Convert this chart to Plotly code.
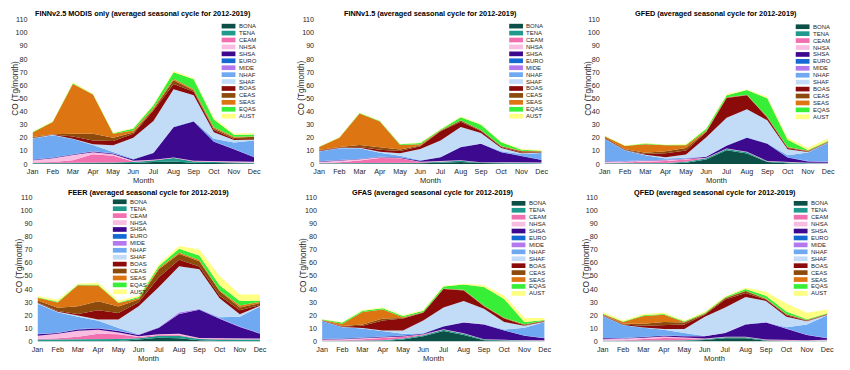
import plotly.graph_objects as go

MONTHS = ["Jan", "Feb", "Mar", "Apr", "May", "Jun", "Jul", "Aug", "Sep", "Oct", "Nov", "Dec"]
REGIONS = ["BONA", "TENA", "CEAM", "NHSA", "SHSA", "EURO", "MIDE",
           "NHAF", "SHAF", "BOAS", "CEAS", "SEAS", "EQAS", "AUST"]
COLORS = ["#0b4f47", "#1f9a8c", "#f26fb0", "#f8bde0", "#3d0a8f", "#1569d2", "#b478ee",
          "#6ea9f2", "#c2dcf7", "#8b0a0a", "#8c4a0c", "#dd7512", "#38ef38", "#ffff82"]

TITLES = [
    "FINNv2.5 MODIS only (averaged seasonal cycle for 2012-2019)",
    "FINNv1.5 (averaged seasonal cycle for 2012-2019)",
    "GFED (averaged seasonal cycle for 2012-2019)",
    "FEER (averaged seasonal cycle for 2012-2019)",
    "GFAS (averaged seasonal cycle for 2012-2019)",
    "QFED (averaged seasonal cycle for 2012-2019)",
]

# ---- data: CO emissions (Tg/month), per region, Jan..Dec ----
FINN25 = {
    "BONA": [0.3, 0.3, 0.3, 0.4, 0.5, 0.8, 1.5, 2, 1, 0.8, 0.5, 0.3],
    "TENA": [0.5, 0.5, 0.5, 0.6, 0.7, 0.7, 1.2, 2.5, 1, 0.7, 0.5, 0.4],
    "CEAM": [0.3, 0.7, 2, 6.5, 5, 0.5, 0.3, 0.3, 0.2, 0.2, 0.2, 0.2],
    "NHSA": [1.7, 2.8, 4, 1.5, 1.2, 0.5, 0.3, 0.2, 0.2, 0.3, 0.5, 0.8],
    "SHSA": [0.4, 0.5, 0.5, 0.5, 0.6, 1.0, 5, 23, 30, 15, 9.5, 3.5],
    "EURO": [0.1] * 12,
    "MIDE": [0.1] * 12,
    "NHAF": [16, 17, 11.5, 4.8, 1, 0.3, 0.2, 0.2, 0.2, 2, 5, 12.5],
    "SHAF": [0.2, 0.2, 0.3, 0.5, 5, 16, 24, 28.5, 19.5, 5, 1.8, 0.3],
    "BOAS": [0.3, 0.2, 1.7, 3, 3.3, 3, 8, 4, 2.7, 1.8, 0.8, 0.5],
    "CEAS": [0.6, 0.3, 2, 5, 2.5, 1, 1, 3, 1, 1, 1, 2],
    "SEAS": [3.5, 9.3, 38, 30, 3, 1.5, 1, 1, 1, 1, 0.8, 0.3],
    "EQAS": [0.3, 0.2, 0.5, 0.2, 0.5, 1.5, 2, 5, 7.5, 6, 1.5, 1.5],
    "AUST": [0.5, 0.3, 0.8, 0.3, 0.5, 0.5, 0.8, 1, 0.8, 1, 1, 1],
}
FINN15 = {
    "BONA": [0.2, 0.2, 0.2, 0.2, 0.3, 0.5, 1, 1.5, 0.7, 0.5, 0.3, 0.2],
    "TENA": [0.3, 0.3, 0.4, 0.4, 0.5, 0.5, 0.8, 1, 0.5, 0.4, 0.3, 0.3],
    "CEAM": [0.3, 0.8, 2, 4, 3.5, 0.5, 0.2, 0.2, 0.1, 0.1, 0.1, 0.1],
    "NHSA": [0.8, 1.2, 1, 0.5, 0.3, 0.2, 0.1, 0.1, 0.1, 0.2, 0.3, 0.5],
    "SHSA": [0.3, 0.3, 0.3, 0.3, 0.4, 0.8, 3, 10, 14, 7.8, 5, 2],
    "EURO": [0.1] * 12,
    "MIDE": [0.1] * 12,
    "NHAF": [7.5, 9, 8, 3, 1, 0.2, 0.1, 0.1, 0.1, 0.5, 1.5, 5],
    "SHAF": [0.2, 0.2, 0.3, 0.8, 2, 8.5, 12.5, 15, 8, 2.5, 0.5, 0.2],
    "BOAS": [0.3, 0.3, 0.6, 1.5, 1.8, 2.2, 7, 4, 1.5, 0.8, 0.5, 0.2],
    "CEAS": [0.6, 0.5, 1.5, 2, 1, 0.5, 0.5, 1, 0.5, 0.5, 1, 0.8],
    "SEAS": [2.2, 7, 24, 19.5, 3.5, 1, 0.4, 0.3, 0.3, 0.3, 0.4, 0.3],
    "EQAS": [0.2, 0.2, 0.3, 0.3, 0.5, 1, 0.5, 2.2, 4, 2.7, 0.8, 0.3],
    "AUST": [0.3, 0.3, 0.5, 0.3, 0.3, 0.3, 0.3, 0.5, 0.5, 0.5, 0.6, 0.5],
}
GFED = {
    "BONA": [0.2, 0.2, 0.2, 0.3, 1, 3.5, 10.5, 8, 1.5, 0.5, 0.2, 0.1],
    "TENA": [0.3, 0.3, 0.5, 0.5, 0.8, 0.8, 1, 1, 0.5, 0.5, 0.3, 0.3],
    "CEAM": [0.3, 0.5, 1, 1.5, 1.5, 0.3, 0.2, 0.2, 0.1, 0.1, 0.1, 0.1],
    "NHSA": [0.8, 0.8, 0.8, 0.5, 0.3, 0.1, 0.1, 0.1, 0.1, 0.3, 0.3, 0.5],
    "SHSA": [0.3, 0.2, 0.2, 0.2, 0.4, 0.8, 2.2, 10.7, 13.3, 3.6, 1.1, 0.5],
    "EURO": [0.1] * 12,
    "MIDE": [0.1] * 12,
    "NHAF": [17, 8, 3.7, 1, 0.5, 0.1, 0.1, 0.1, 0.1, 1.5, 6.5, 14.5],
    "SHAF": [0.2, 0.2, 0.5, 1, 2.5, 14.5, 21, 21.5, 17.5, 4.5, 0.5, 0.2],
    "BOAS": [0.3, 0.3, 0.5, 3, 3, 4, 15, 10.5, 2, 1, 0.3, 0.2],
    "CEAS": [1, 0.5, 1, 1.5, 2, 0.5, 0.3, 0.3, 0.5, 0.5, 0.5, 0.4],
    "SEAS": [0.5, 2.5, 6.5, 4.5, 2, 0.5, 0.2, 0.2, 0.2, 0.2, 0.2, 0.2],
    "EQAS": [0.2, 0.2, 0.5, 0.2, 0.5, 1.5, 1.5, 3.5, 14, 5.6, 0.5, 0.5],
    "AUST": [0.3, 0.3, 0.5, 0.3, 0.5, 0.5, 1, 0.5, 1, 1.5, 1.5, 2],
}
FEER = {
    "BONA": [0.5, 0.5, 0.5, 0.5, 0.5, 1.5, 3, 2.5, 1, 0.5, 0.5, 0.5],
    "TENA": [1, 1, 1.2, 1.5, 1.5, 1, 1.5, 2, 1, 1, 1, 1],
    "CEAM": [0.5, 1, 2, 4, 3.5, 1, 0.5, 0.5, 0.3, 0.3, 0.3, 0.3],
    "NHSA": [2.5, 3.5, 4.5, 3, 1.5, 0.5, 0.5, 1, 0.5, 1, 0.8, 0.5],
    "SHSA": [1, 0.5, 1, 1, 1, 1, 5, 15, 21.5, 14.5, 8.5, 3.7],
    "EURO": [0.1] * 12,
    "MIDE": [0.2, 0.2, 0.2, 0.2, 0.2, 0.2, 0.3, 1, 0.5, 0.3, 0.2, 0.2],
    "NHAF": [23, 15.5, 9.5, 5.5, 2, 0.2, 0.2, 0.2, 0.2, 0.8, 7.5, 20.5],
    "SHAF": [0.5, 0.5, 0.8, 1, 6.5, 21.5, 30.5, 35, 30, 14.5, 2, 0.5],
    "BOAS": [0.5, 0.5, 1.2, 7, 5, 3, 7.5, 5, 2, 2, 3, 0.5],
    "CEAS": [1.5, 2.5, 6, 7, 5, 2, 6, 4.5, 4, 3.5, 2, 1.5],
    "SEAS": [2, 4, 16, 12, 2.5, 1, 1, 1, 1, 0.5, 1.5, 1],
    "EQAS": [0.5, 0.5, 0.5, 0.5, 0.5, 1, 1.5, 3, 3.5, 4, 3.5, 1],
    "AUST": [1, 1.5, 0.5, 1.5, 1.5, 1, 1.5, 2, 4.5, 7, 5, 4.5],
}
GFAS = {
    "BONA": [0.2, 0.2, 0.3, 0.5, 1.5, 4, 8, 5, 1, 0.5, 0.3, 0.2],
    "TENA": [0.3, 0.3, 0.5, 0.5, 0.8, 0.8, 1, 1, 0.5, 0.5, 0.4, 0.3],
    "CEAM": [0.3, 0.5, 1, 1.5, 1.3, 0.5, 0.2, 0.2, 0.1, 0.1, 0.1, 0.1],
    "NHSA": [0.8, 0.8, 0.8, 0.5, 0.3, 0.2, 0.1, 0.1, 0.1, 0.2, 0.3, 0.5],
    "SHSA": [0.4, 0.4, 0.4, 0.5, 0.6, 0.5, 2.2, 8.2, 11.3, 7.2, 3.4, 1.4],
    "EURO": [0.1] * 12,
    "MIDE": [0.1] * 12,
    "NHAF": [13.3, 8.6, 6.8, 4.3, 1.3, 0.1, 0.1, 0.1, 0.1, 0.5, 5.8, 12.3],
    "SHAF": [0.2, 0.2, 0.3, 0.5, 2.5, 9.7, 14.2, 16.2, 11.7, 5.8, 1.5, 0.2],
    "BOAS": [0.3, 0.3, 1.7, 7.5, 9, 6, 14, 8, 2, 2.5, 0.5, 0.3],
    "CEAS": [0.2, 0.3, 1, 1.5, 0.5, 0.3, 0.2, 0.2, 0.2, 0.5, 0.5, 0.3],
    "SEAS": [0.3, 1.7, 9.5, 7, 0.5, 0.2, 0.2, 0.2, 0.2, 0.2, 0.2, 0.2],
    "EQAS": [0.3, 1, 1, 0.8, 1, 1, 1.6, 4.1, 14.1, 14.3, 1.8, 0.5],
    "AUST": [0.3, 0.5, 0.5, 0.7, 0.5, 0.5, 0.5, 0.5, 1.5, 2.5, 3, 1.5],
}
QFED = {
    "BONA": [0.2, 0.2, 0.3, 0.4, 0.6, 1.2, 2.5, 2.5, 0.6, 0.3, 0.2, 0.2],
    "TENA": [0.4, 0.4, 0.4, 0.4, 0.5, 0.6, 0.8, 0.8, 0.5, 0.4, 0.4, 0.4],
    "CEAM": [0.3, 0.5, 1.2, 2, 1.5, 0.4, 0.2, 0.2, 0.2, 0.2, 0.2, 0.2],
    "NHSA": [0.8, 1, 1, 1, 0.5, 0.2, 0.2, 0.2, 0.2, 0.2, 0.3, 0.5],
    "SHSA": [0.8, 0.4, 0.6, 0.7, 0.9, 1.6, 2.8, 9.3, 13, 8.4, 3.9, 1.2],
    "EURO": [0.1] * 12,
    "MIDE": [0.1] * 12,
    "NHAF": [16.8, 9.8, 6.8, 4.3, 2.3, 0.1, 0.1, 0.1, 0.1, 1.3, 7.8, 17.3],
    "SHAF": [0.2, 0.2, 0.3, 0.5, 3, 14.7, 19.2, 20.7, 16.2, 8, 2.5, 0.3],
    "BOAS": [0.3, 0.3, 1.2, 3, 3.5, 1.5, 6, 3, 1, 1, 0.3, 0.2],
    "CEAS": [0.5, 0.5, 1.5, 2.5, 1.5, 0.5, 1, 1.5, 0.5, 0.8, 0.5, 0.5],
    "SEAS": [0.5, 1.5, 6, 5.5, 0.5, 0.3, 0.3, 0.3, 0.3, 0.2, 0.2, 0.2],
    "EQAS": [0.3, 0.3, 0.5, 0.5, 0.5, 0.7, 0.7, 1.2, 2.2, 2, 0.5, 0.3],
    "AUST": [1.2, 0.7, 1, 1, 0.5, 1, 0.5, 1, 3, 6, 5, 3],
}
PANELS = [FINN25, FINN15, GFED, FEER, GFAS, QFED]

Y_TICKS = list(range(0, 111, 10))

# ---- layout geometry (pixels) ----
W, H = 850, 370
X_DOM_PX = [(27, 252), (318, 544), (608, 835), (32, 258), (321, 547), (606, 834)]
Y_DOM_PX = [(16, 164)] * 3 + [(198, 346)] * 3
TITLE_Y = [10, 10, 10, 193, 193, 193]
MONTH_Y = [181, 181, 181, 363, 363, 363]
YLAB_X = [10, 300, 592, 14, 302, 590]
LEG_POS = [(219, 22.7), (511, 22.7), (802, 23.3), (108.5, 202.7), (513.5, 204.3), (800, 204.3)]
LEG_STEP = 7.1

FONT = "Liberation Sans, Arial, Helvetica, sans-serif"
TXT = "#262626"


def px(x):
    return x / W


def py(y):
    return 1 - y / H


fig = go.Figure()
layout = {}
annotations = []
shapes = []

for i, data in enumerate(PANELS):
    n = i + 1
    xa = "x" if n == 1 else f"x{n}"
    ya = "y" if n == 1 else f"y{n}"
    for r, name in enumerate(REGIONS):
        fig.add_trace(go.Scatter(
            x=MONTHS, y=data[name], name=name, mode="lines",
            line=dict(width=0, color=COLORS[r]), fillcolor=COLORS[r],
            stackgroup=f"g{n}", xaxis=xa, yaxis=ya, showlegend=False,
        ))
    x0, x1 = X_DOM_PX[i]
    yt, yb = Y_DOM_PX[i]
    layout[f"xaxis{n}"] = dict(
        domain=[px(x0), px(x1)], anchor=ya, range=[0, 11], type="category",
        showgrid=False, zeroline=False, showline=False, ticks="",
        ticklabelstandoff=2,
        tickfont=dict(size=7.2, color=TXT, family=FONT),
    )
    layout[f"yaxis{n}"] = dict(
        domain=[py(yb), py(yt)], anchor=xa, range=[0, 110],
        tickvals=Y_TICKS, showgrid=False, zeroline=False, showline=False, ticks="",
        ticklabelstandoff=4,
        tickfont=dict(size=7.2, color=TXT, family=FONT),
    )
    cx = (x0 + x1) / 2
    annotations.append(dict(text=f"<b>{TITLES[i]}</b>", x=px(cx), y=py(TITLE_Y[i]),
                            xref="paper", yref="paper", showarrow=False,
                            xanchor="center", yanchor="middle", borderpad=0,
                            font=dict(size=7.3, color="#000000", family=FONT)))
    annotations.append(dict(text="Month", x=px(cx), y=py(MONTH_Y[i]),
                            xref="paper", yref="paper", showarrow=False,
                            xanchor="center", yanchor="middle", borderpad=0,
                            font=dict(size=7.5, color=TXT, family=FONT)))
    annotations.append(dict(text="CO (Tg/month)", x=px(YLAB_X[i]), y=py((yt + yb) / 2 - 4),
                            xref="paper", yref="paper", showarrow=False, textangle=-90,
                            xanchor="center", yanchor="middle", borderpad=0,
                            font=dict(size=8.2, color=TXT, family=FONT)))
    lx, ly = LEG_POS[i]
    for r, name in enumerate(REGIONS):
        cy = ly + r * LEG_STEP
        shapes.append(dict(type="rect", xref="paper", yref="paper",
                           x0=px(lx), x1=px(lx + 14), y0=py(cy + 2.4), y1=py(cy - 2.4),
                           fillcolor=COLORS[r], line=dict(width=0)))
        annotations.append(dict(text=name, x=px(lx + 16.5), y=py(cy),
                                xref="paper", yref="paper", showarrow=False,
                                xanchor="left", yanchor="middle", borderpad=0,
                                font=dict(size=6, color=TXT, family=FONT)))

fig.update_layout(
    width=W, height=H, margin=dict(l=0, r=0, t=0, b=0),
    paper_bgcolor="white", plot_bgcolor="white",
    annotations=annotations, shapes=shapes, **layout,
)

fig.write_html("out.html", config={"displayModeBar": False},
               post_script="document.body.style.margin='0px';")
